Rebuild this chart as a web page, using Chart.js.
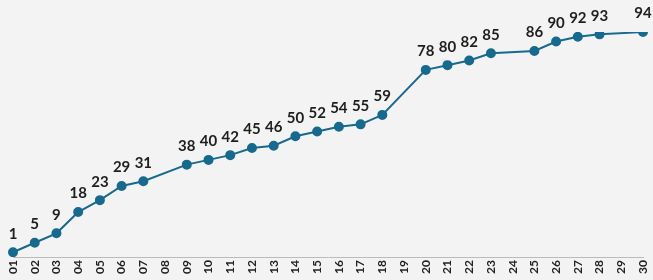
<!DOCTYPE html>
<html>
<head>
<meta charset="utf-8">
<script src="https://cdn.jsdelivr.net/npm/chart.js"></script>
<style>
    html, body { margin: 0; padding: 0; background: #f3f3f3; }
    #wrap { width: 653px; height: 280px; position: relative; }
</style>
</head>
<body>
<div id="wrap"><canvas id="progressChart"></canvas></div>
<script>
// days along the x axis
const days = ['01','02','03','04','05','06','07','08','09','10','11','12','13','14','15',
              '16','17','18','19','20','21','22','23','24','25','26','27','28','29','30'];
// cumulative values, null where the day has no point
const totals = [1, 5, 9, 18, 23, 29, 31, null, 38, 40, 42, 45, 46, 50, 52,
                54, 55, 59, null, 78, 80, 82, 85, null, 86, 90, 92, 93, null, 94];

const lineColor = '#17698e';

// draws the value above each point
const valueLabels = {
    id: 'valueLabels',
    afterDatasetsDraw(chart) {
        const ctx = chart.ctx;
        const meta = chart.getDatasetMeta(0);
        ctx.save();
        ctx.font = 'bold 15px Lato, "DejaVu Sans", sans-serif';
        ctx.fillStyle = '#1e1e1e';
        ctx.textAlign = 'center';
        ctx.textBaseline = 'bottom';
        meta.data.forEach((pt, i) => {
            if (totals[i] === null) return;
            ctx.fillText(String(totals[i]), pt.x, pt.y - 11);
        });
        ctx.restore();
    }
};

new Chart(document.getElementById('progressChart'), {
    type: 'line',
    data: {
        labels: days,
        datasets: [{
            data: totals,
            borderColor: lineColor,
            backgroundColor: lineColor,
            borderWidth: 2,
            pointRadius: 4,
            pointHoverRadius: 4,
            tension: 0,
            spanGaps: true
        }]
    },
    options: {
        responsive: true,
        maintainAspectRatio: false,
        animation: false,
        layout: { padding: { left: 13, right: 10, top: 32, bottom: 0 } },
        plugins: { legend: { display: false }, tooltip: { enabled: false } },
        scales: {
            x: {
                offset: false,
                grid: { display: false, drawTicks: false },
                border: { display: true, color: '#bbb', dash: [2, 2], width: 1 },
                ticks: {
                    maxRotation: 90,
                    minRotation: 90,
                    padding: 3,
                    color: '#222',
                    font: { family: 'Lato, "DejaVu Sans", sans-serif', size: 12, weight: 'bold' }
                },
                afterFit(scale) {
                    scale.height = 23;
                    scale.paddingLeft = 0;
                    scale.paddingRight = 0;
                }
            },
            y: {
                display: false,
                min: -1,
                max: 94
            }
        }
    },
    plugins: [valueLabels]
});
</script>
</body>
</html>
